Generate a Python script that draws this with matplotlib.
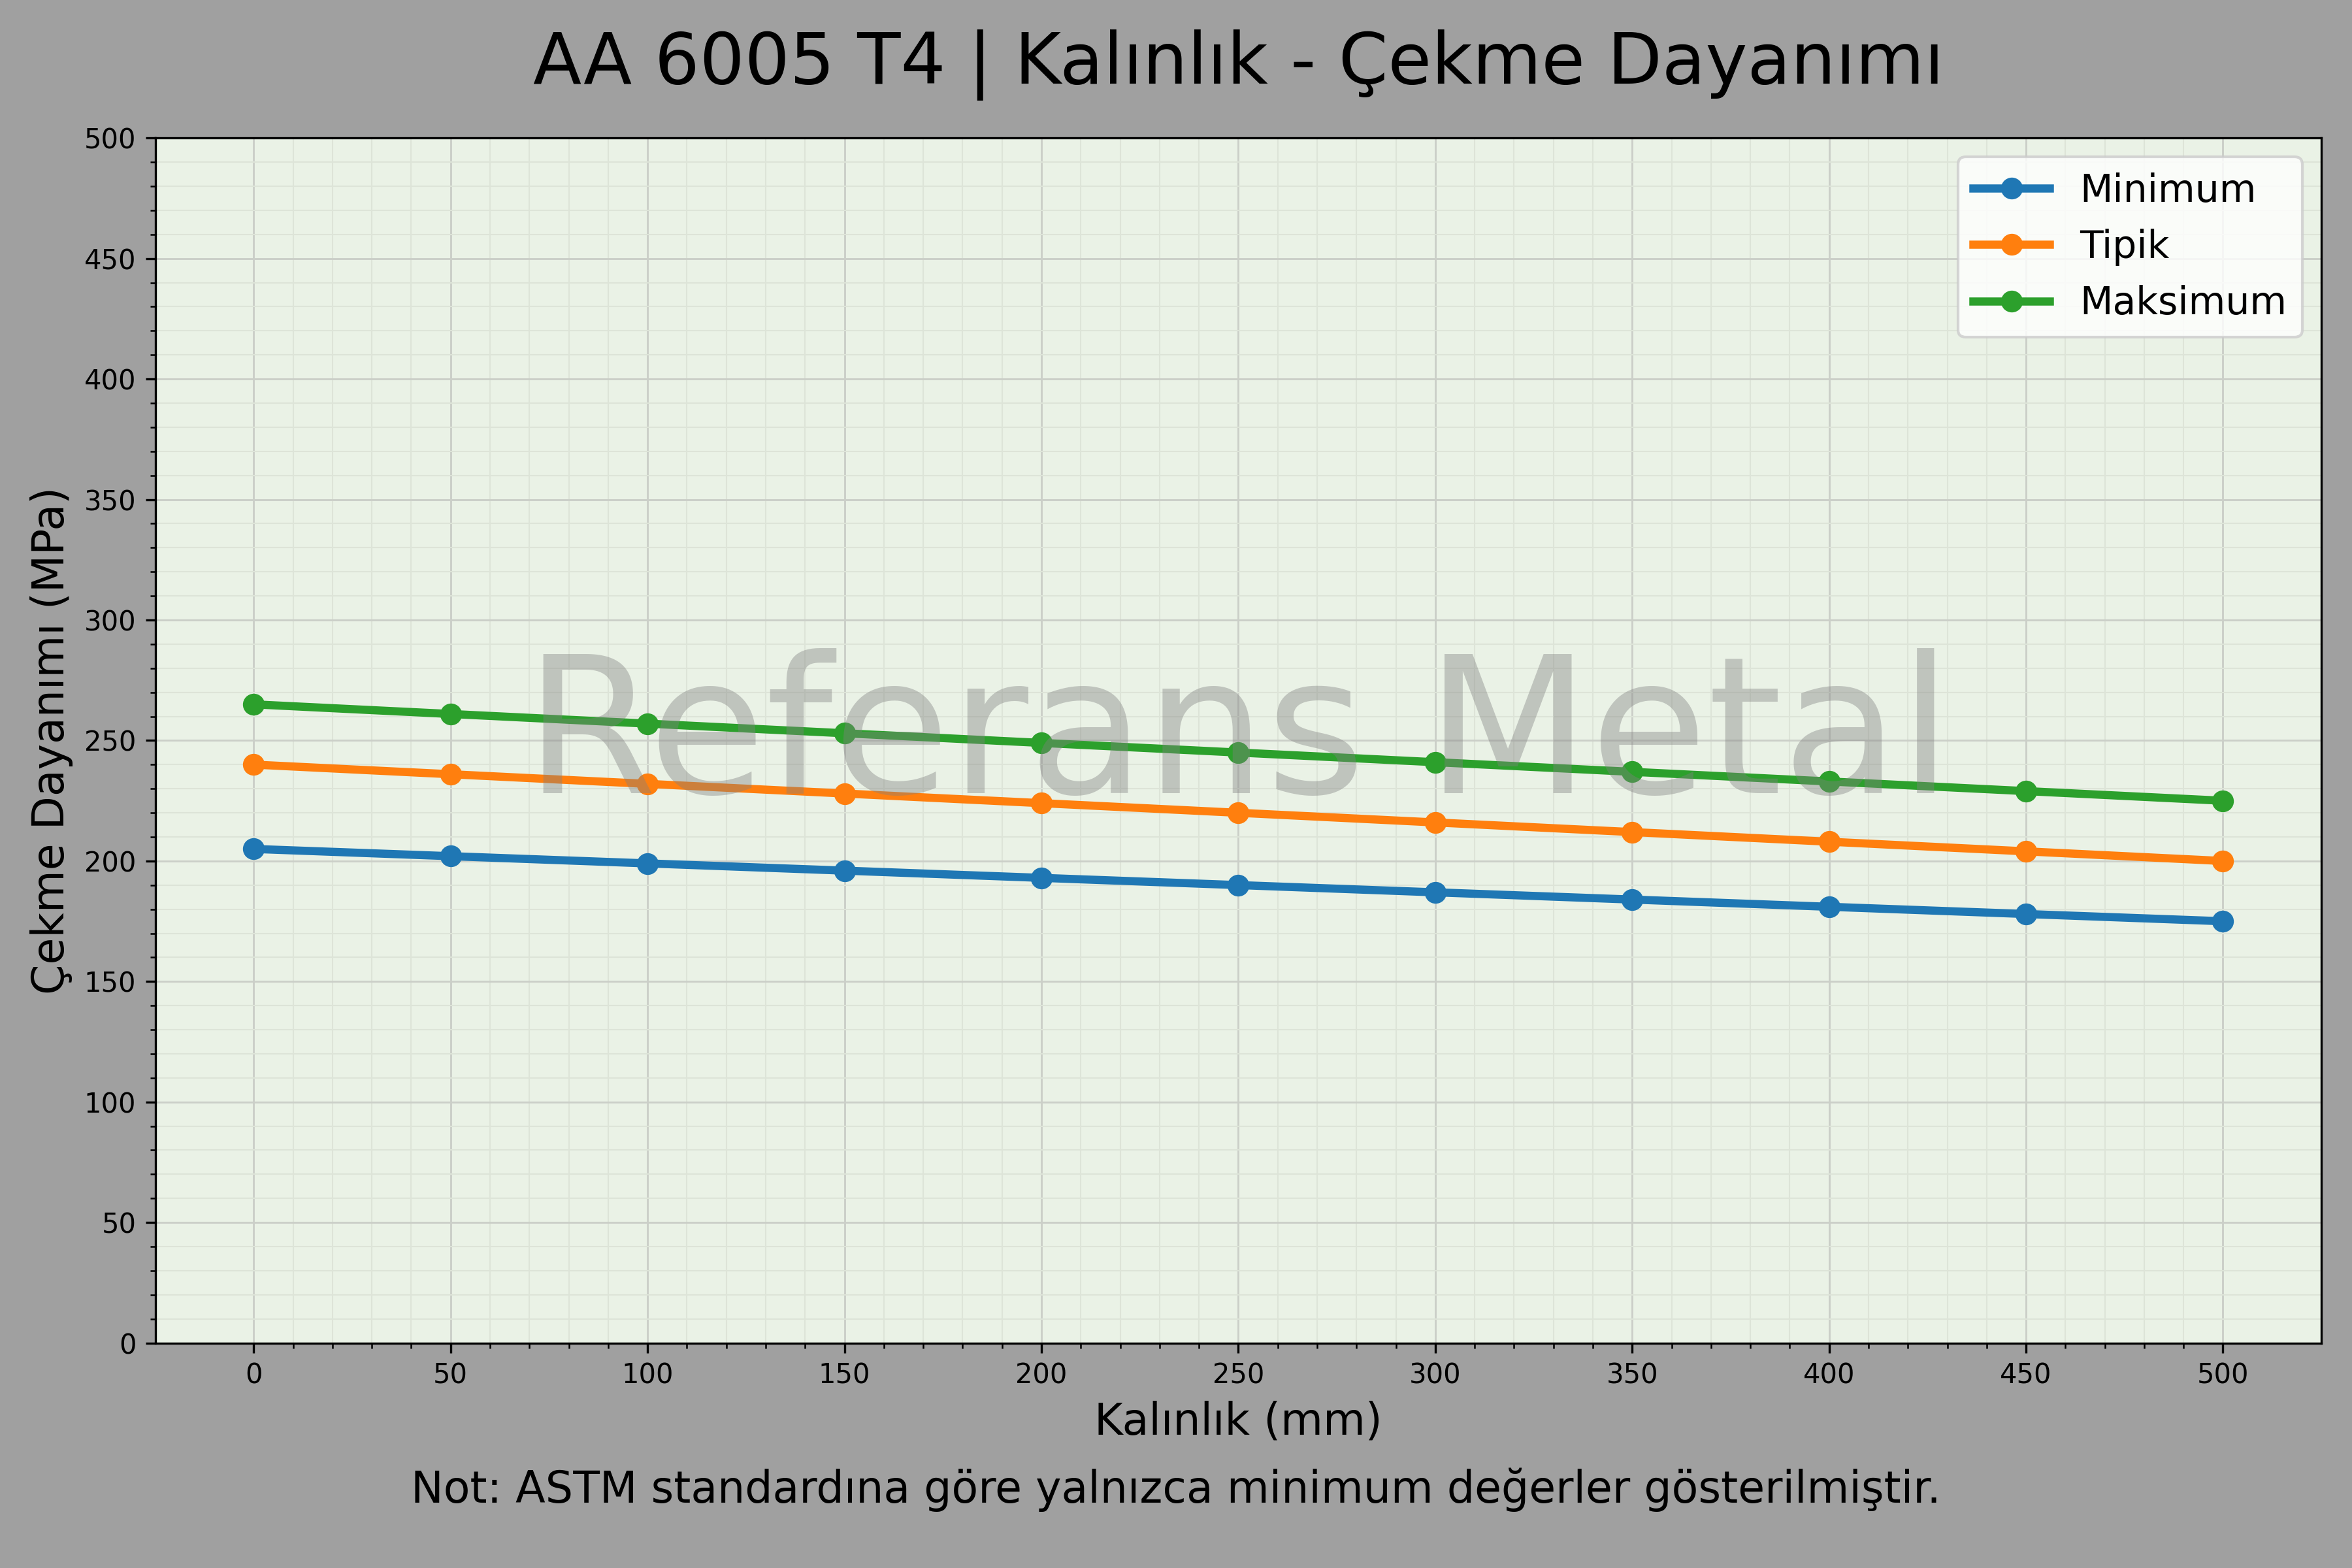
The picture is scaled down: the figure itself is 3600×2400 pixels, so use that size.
import matplotlib.pyplot as plt
import numpy as np
from matplotlib.ticker import FixedLocator, AutoMinorLocator

thickness = [0, 50, 100, 150, 200, 250, 300, 350, 400, 450, 500]
minimum = [205, 202, 199, 196, 193, 190, 187, 184, 181, 178, 175]
tipik = [240, 236, 232, 228, 224, 220, 216, 212, 208, 204, 200]
maksimum = [265, 261, 257, 253, 249, 245, 241, 237, 233, 229, 225]

fig, ax = plt.subplots(figsize=(12, 8), dpi=300)
fig.patch.set_facecolor('#a0a0a0')
ax.set_facecolor('#eaf2e6')

ax.plot(thickness, minimum, marker='o', lw=3, ms=7, color='#1f77b4', label='Minimum')
ax.plot(thickness, tipik, marker='o', lw=3, ms=7, color='#ff7f0e', label='Tipik')
ax.plot(thickness, maksimum, marker='o', lw=3, ms=7, color='#2ca02c', label='Maksimum')

ax.set_ylim(0, 500)
ax.set_xticks(np.arange(0, 501, 50))
ax.set_yticks(np.arange(0, 501, 50))
# minor ticks only inside the data range
minor_x = [v for v in range(0, 501, 10) if v % 50 != 0]
ax.xaxis.set_minor_locator(FixedLocator(minor_x))
ax.yaxis.set_minor_locator(AutoMinorLocator(5))
ax.grid(which='major', color='#cbcfc8', lw=0.7)
ax.grid(which='minor', color='#dde4d8', lw=0.5)
ax.set_axisbelow(True)

# watermark
ax.text(0.5, 0.5, 'Referans Metal', transform=ax.transAxes, fontsize=70,
        color='gray', alpha=0.4, ha='center', va='center', zorder=5)

ax.set_xlabel('Kalınlık (mm)', fontsize=16)
ax.set_ylabel('Çekme Dayanımı (MPa)', fontsize=16)
ax.set_title('AA 6005 T4 | Kalınlık - Çekme Dayanımı', fontsize=26, pad=20)
ax.legend(fontsize=14, loc='upper right')

fig.text(0.5, 0.05, 'Not: ASTM standardına göre yalnızca minimum değerler gösterilmiştir.',
         ha='center', va='center', fontsize=16)

fig.subplots_adjust(left=0.066, right=0.987, top=0.912, bottom=0.1435)
fig.savefig('out.png', dpi=300, facecolor=fig.get_facecolor())
